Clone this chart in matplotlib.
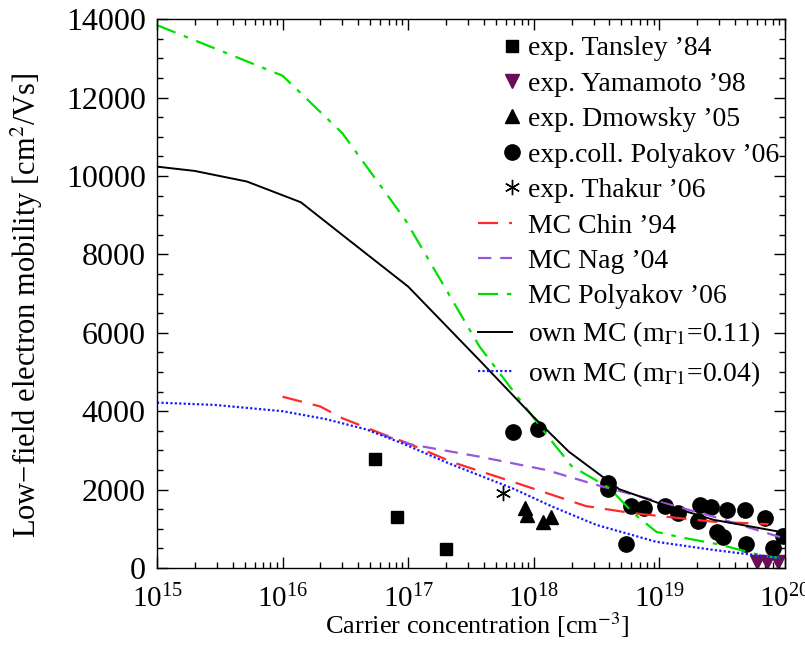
import numpy as np
import matplotlib
matplotlib.use("Agg")
import matplotlib.pyplot as plt
from matplotlib.legend_handler import HandlerLine2D
from matplotlib.ticker import LogLocator, MultipleLocator

plt.rcParams['font.family'] = ['Liberation Serif', 'DejaVu Serif']
plt.rcParams['mathtext.fontset'] = 'stix'

# experimental points: carrier concentration [cm^-3], mobility [cm^2/Vs]
tansley_n = [5.4e16, 8.1e16, 2.0e17]
tansley_mu = [2780, 1310, 490]

yamamoto_n = [6.0e19, 7.2e19, 8.8e19]
yamamoto_mu = [150, 150, 150]

dmowsky_n = [8.5e17, 8.9e17, 1.19e18, 1.37e18]
dmowsky_mu = [1530, 1350, 1180, 1310]

polyakov_n = [6.9e17, 1.09e18, 3.87e18, 3.94e18, 5.4e18, 6.0e18, 7.6e18,
              1.12e19, 1.40e19, 2.04e19, 2.10e19, 2.58e19, 2.86e19, 3.19e19,
              3.44e19, 4.81e19, 4.90e19, 6.93e19, 8.08e19, 9.7e19]
polyakov_mu = [3460, 3540, 2160, 2010, 610, 1580, 1540,
               1580, 1410, 1200, 1610, 1560, 930, 800,
               1480, 1480, 610, 1280, 520, 820]

thakur_n = [5.7e17]
thakur_mu = [1920]

# Monte Carlo curves
chin_n = [1e16, 2e16, 3e16, 6e16, 1e17, 1.9e17, 2.4e17, 6.8e17, 2.6e18, 6.1e18, 2.7e19, 7.4e19]
chin_mu = [4370, 4120, 3820, 3440, 3180, 2800, 2670, 2200, 1580, 1400, 1180, 1120]

nag_n = [6e16, 1.02e17, 3.7e17, 1.26e18, 3.15e18, 7.9e18, 2.7e19, 9.3e19]
nag_mu = [3420, 3160, 2840, 2500, 2120, 1780, 1310, 780]

mcpoly_n = [1e15, 1e16, 3e16, 9.5e16, 3.7e17, 1.1e18, 2e18, 4e18, 6.2e18, 9.5e18,
            1.5e19, 3e19, 6.7e19, 9e19]
mcpoly_mu = [13850, 12560, 11090, 8880, 5650, 3650, 2600, 2040, 1400, 920,
             780, 600, 310, 260]

own011_n = [1e15, 2e15, 5.2e15, 1.4e16, 3.3e16, 1e17, 3.7e17, 1e18, 1.9e18,
            4.8e18, 1e19, 2.7e19, 1e20]
own011_mu = [10240, 10130, 9860, 9330, 8390, 7180, 5300, 3850, 2970,
             2010, 1650, 1230, 900]

own004_n = [1e15, 2.9e15, 1e16, 2.2e16, 4.6e16, 9e16, 2e17, 6.8e17, 1.42e18,
            3.15e18, 9.4e18, 2.7e19, 9.3e19]
own004_mu = [4220, 4160, 4000, 3800, 3540, 3180, 2700, 2030, 1560,
             1100, 670, 460, 250]


class EndMarker(HandlerLine2D):
    # single marker drawn at the right end of the handle, next to the text
    def get_xdata(self, legend, xdescent, ydescent, width, height, fontsize):
        x0 = -xdescent + width
        return np.array([x0 - 1, x0 + 1]), np.array([x0])


fig = plt.figure(figsize=(8.05, 6.64), dpi=100)
ax = fig.add_axes([0.195, 0.1446, 0.78, 0.8264])

pts = []
pts.append(ax.plot(tansley_n, tansley_mu, 's', color='black', ms=9, label="exp. Tansley \u201984")[0])
pts.append(ax.plot(yamamoto_n, yamamoto_mu, 'v', color='#6a0d55', ms=10, label="exp. Yamamoto \u201998")[0])
pts.append(ax.plot(dmowsky_n, dmowsky_mu, '^', color='black', ms=10, label="exp. Dmowsky \u201905")[0])
pts.append(ax.plot(polyakov_n, polyakov_mu, 'o', color='black', ms=11, label="exp.coll. Polyakov \u201906")[0])
pts.append(ax.plot(thakur_n, thakur_mu, marker=(6, 2, 0), ls='none', color='black', ms=11, mew=1.0,
                   label="exp. Thakur \u201906")[0])

ax.plot(chin_n, chin_mu, color='#ff2a2a', lw=1.6, dashes=(9, 5), label="MC Chin \u201994")
ax.plot(nag_n, nag_mu, color='#9955dd', lw=1.6, dashes=(6, 4), label="MC Nag \u201904")
ax.plot(mcpoly_n, mcpoly_mu, color='#00e000', lw=1.6, dashes=(9, 4, 2, 4), label="MC Polyakov \u201906")
ax.plot(own011_n, own011_mu, color='black', lw=1.4, label="own MC (m$_{\\Gamma1}$=0.11)")
ax.plot(own004_n, own004_mu, color='#1a1aff', lw=1.6, dashes=(1, 1), label="own MC (m$_{\\Gamma1}$=0.04)")

ax.set_xscale('log')
ax.set_xlim(1e15, 1e20)
ax.set_ylim(0, 14000)
ax.yaxis.set_major_locator(MultipleLocator(2000))
ax.yaxis.set_minor_locator(MultipleLocator(500))
ax.xaxis.set_major_locator(LogLocator(base=10, numticks=10))
ax.xaxis.set_minor_locator(LogLocator(base=10, subs=np.arange(2, 10), numticks=50))

ax.tick_params(which='both', direction='in', top=True, right=True, width=1.0)
ax.tick_params(which='major', length=8)
ax.tick_params(which='minor', length=4)
ax.tick_params(axis='y', which='major', labelsize=23, pad=8)
ax.tick_params(axis='x', which='major', labelsize=21, pad=12)
for s in ax.spines.values():
    s.set_linewidth(1.0)

ax.set_xlabel("Carrier concentration [cm$^{-3}$]", fontsize=19)
ax.xaxis.set_label_coords(0.51, -0.078)
ax.set_ylabel("Low\u2212field electron mobility [cm$^{2}$/Vs]", fontsize=22)
ax.yaxis.set_label_coords(-0.178, 0.479)

hm = {p: EndMarker(numpoints=1) for p in pts}
ax.legend(loc='upper left', bbox_to_anchor=(0.494, 0.99), frameon=False, fontsize=20,
          handlelength=1.2, handletextpad=0.58, labelspacing=0.36, borderaxespad=0,
          handler_map=hm)

fig.savefig("out.png", dpi=100)
